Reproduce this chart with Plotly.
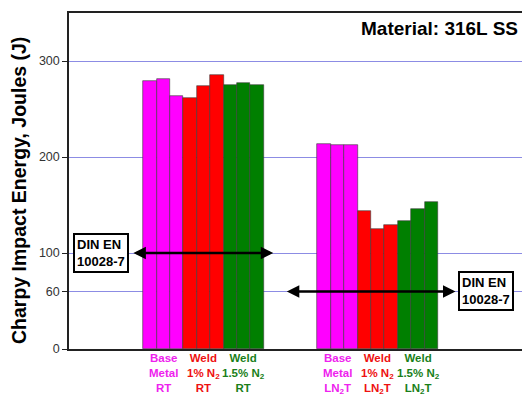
import plotly.graph_objects as go

# Charpy impact energy of 316L stainless steel, three specimens per condition
conditions = ["Base<br>Metal", "Weld<br>1% N<sub>2</sub>", "Weld<br>1.5% N<sub>2</sub>"]
condition_colors = ["#ff00ff", "#ff0000", "#007f00"]
label_colors = ["#ee22ee", "#ee1111", "#1a7f1a"]
temperatures = ["RT", "LN<sub>2</sub>T"]

rt_values = [279.5, 281.5, 264.0, 261.5, 274.0, 285.5, 275.5, 277.5, 275.5]
lnt_values = [213.5, 212.0, 212.0, 143.5, 125.5, 129.5, 133.5, 145.5, 153.5]

spec_limits = [100, 60]          # DIN EN 10028-7 minimum energy (J)
spec_label = "DIN EN<br>10028-7"
y_ticks = [0, 60, 100, 200, 300]

specimens_per_condition = 3
group_gap = 13                   # slot offset between the RT and LN2T groups

fig = go.Figure()

for g, values in enumerate([rt_values, lnt_values]):
    xs = [g * group_gap + i for i in range(len(values))]
    colors = [condition_colors[i // specimens_per_condition] for i in range(len(values))]
    fig.add_trace(go.Bar(
        x=xs, y=values, width=1.0,
        marker=dict(color=colors, line=dict(color="#3a3a3a", width=0.6)),
        showlegend=False,
    ))
    # condition labels under each triplet
    for c in range(len(conditions)):
        cx = g * group_gap + c * specimens_per_condition + 1
        fig.add_annotation(
            x=cx, xref="x", y=0, yref="paper", yanchor="top", yshift=-1,
            text=f"{conditions[c]}<br>{temperatures[g]}",
            showarrow=False, align="center",
            font=dict(family="Liberation Sans, Arial, sans-serif", size=11.5,
                      color=label_colors[c], weight="bold"),
        )

font_bold = dict(family="Liberation Sans, Arial, sans-serif", color="black", weight="bold")

# specification limit arrows (double headed)
arrow_spans = [(-1.35, 9.2), (10.1, 22.8)]
for (x0, x1), lim in zip(arrow_spans, spec_limits):
    fig.add_annotation(
        x=x1, y=lim, ax=x0, ay=lim, xref="x", yref="y", axref="x", ayref="y",
        text="", showarrow=True, arrowhead=2, arrowside="end+start",
        arrowsize=1.0, arrowwidth=2.5, arrowcolor="black",
    )

box_x = [-3.65, 25.05]
for bx, lim in zip(box_x, spec_limits):
    fig.add_annotation(
        x=bx, y=lim, xref="x", yref="y", text=spec_label, showarrow=False,
        align="left", bgcolor="white", bordercolor="black", borderwidth=2, borderpad=2,
        font=dict(size=13, **font_bold),
    )

fig.add_annotation(
    x=0.996, y=0.955, xref="paper", yref="paper", xanchor="right", yanchor="middle",
    text="Material: 316L SS", showarrow=False, font=dict(size=19, **font_bold),
)

fig.add_annotation(
    x=-0.109, y=0.472, xref="paper", yref="paper", xanchor="center", yanchor="middle",
    text="Charpy Impact Energy, Joules (J)", textangle=-90, showarrow=False,
    font=dict(size=19.5, **font_bold),
)

fig.update_layout(
    width=523, height=396,
    margin=dict(l=69, r=1, t=13, b=47),
    paper_bgcolor="white", plot_bgcolor="white",
    bargap=0,
    xaxis=dict(range=[-6.04, 27.76], showticklabels=False, ticks="", showgrid=False,
               zeroline=False, showline=True, linecolor="#222222", linewidth=1.5,
               mirror=True),
    yaxis=dict(range=[0, 350], tickvals=y_ticks, ticks="outside", ticklen=5,
               tickcolor="#222222", showline=True, linecolor="#222222", linewidth=1.5,
               showgrid=True, gridcolor="#8c8ce4", gridwidth=1, zeroline=False,
               tickfont=dict(family="Liberation Sans, Arial, sans-serif", size=12.5,
                             color="#333333")),
)

fig.write_html("out.html")
